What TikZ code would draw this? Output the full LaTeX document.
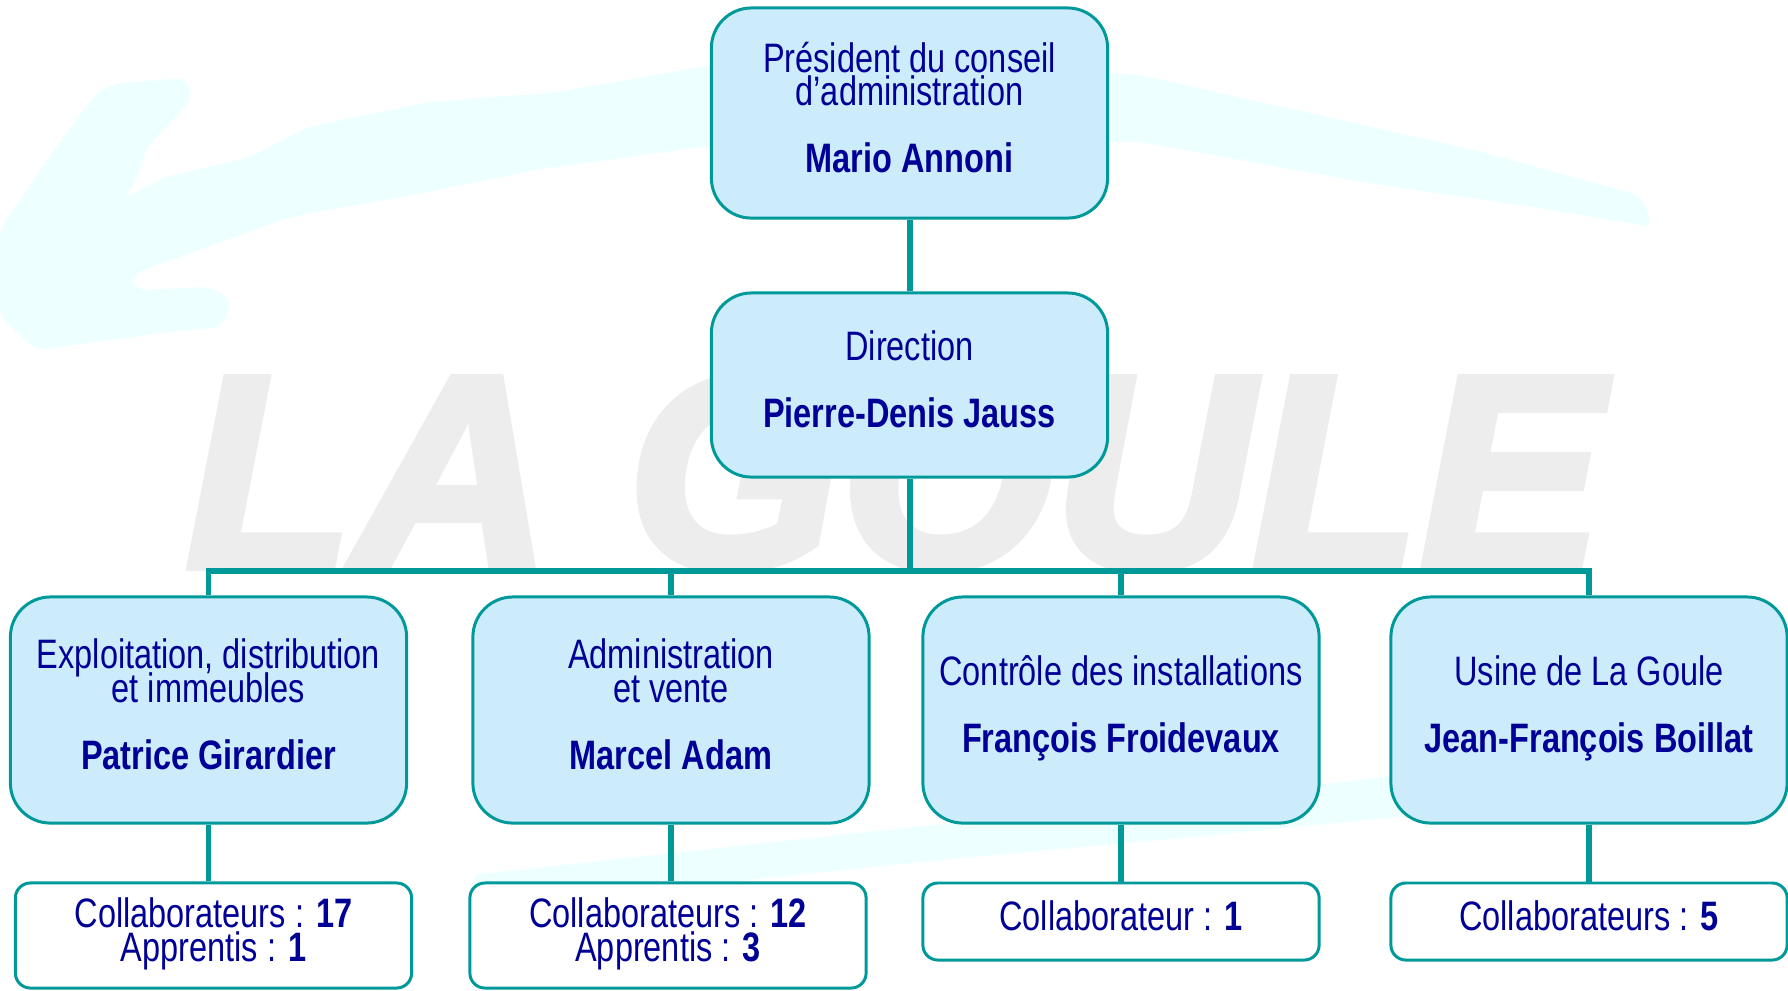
\documentclass[tikz,border=0pt]{standalone}
\usepackage{fontspec}
\setmainfont{Liberation Sans}[FakeStretch=0.79]
\newfontfamily\logofont{Liberation Sans}[FakeBold=3]
\newcommand{\orgfont}{\fontsize{11.7}{9.5}\selectfont\lineskiplimit=-20pt\relax}

\definecolor{boxfill}{RGB}{204,236,252}
\definecolor{boxline}{RGB}{0,153,153}
\definecolor{boxtext}{RGB}{0,0,150}
\definecolor{swoosh}{RGB}{238,255,255}
\definecolor{logogray}{RGB}{237,237,237}

\tikzset{
	chief/.style={draw=boxline, fill=boxfill, line width=0.85pt, rounded corners=0.4cm,
		minimum width=3.96cm, inner sep=0pt, align=center, text=boxtext,
		font=\orgfont, text depth=0.12cm},
	staff/.style={chief, fill=white, rounded corners=0.15cm},
	link/.style={draw=boxline, line width=1.7pt},
}

\begin{document}
\begin{tikzpicture}[x=0.01cm, y=-0.01cm]
	
		\useasboundingbox (0,0) rectangle (1788,990);
		
		% background swoosh
		\fill[swoosh, rounded corners=0.1cm]
		(0,227) -- (25,193) -- (54,150) -- (96,93) -- (116,83) -- (187,78)
		-- (192,100) -- (147,147) -- (134,187) -- (120,200) -- (165,177)
		-- (250,157) -- (308,127) -- (429,102) -- (558,92) -- (700,67)
		-- (900,58) -- (1140,75) -- (1368,126) -- (1482,152) -- (1642,196)
		-- (1653,227) -- (1539,208) -- (1368,183) -- (1140,142) -- (900,140)
		-- (700,147) -- (536,170) -- (402,197) -- (290,217) -- (205,248)
		-- (134,273) -- (134,290) -- (210,287) -- (232,300) -- (223,327)
		-- (161,333) -- (89,343) -- (36,350) -- (0,317) -- cycle;
		\fill[swoosh, rounded corners=0.1cm]
		(470,875) -- (700,850) -- (930,825) -- (1150,805) -- (1400,775)
		-- (1720,735) -- (1730,780) -- (1420,815) -- (1160,840) -- (940,860)
		-- (700,885) -- (480,900) -- cycle;
		
		% watermark
		\node[anchor=base west, inner sep=0pt, text=logogray,
		font=\logofont\bfseries\itshape\fontsize{78}{78}\selectfont] (logo) at (185,567) {LA GOULE};
		
		% boxes
		\node[chief, minimum height=2.1cm] (pres) at (909.5,113)
		{Président du conseil\\d’administration\\[9.5pt]\textbf{Mario Annoni}};
		\node[chief, minimum height=1.84cm] (dir) at (909.5,385)
		{Direction\\[9.5pt]\textbf{Pierre-Denis Jauss}};
		
		\node[chief, minimum height=2.26cm] (expl) at (208.5,710)
		{Exploitation, distribution\\et immeubles\\[9.5pt]\textbf{Patrice Girardier}};
		\node[chief, minimum height=2.26cm] (admin) at (671,710)
		{Administration\\et vente\\[9.5pt]\textbf{Marcel Adam}};
		\node[chief, minimum height=2.26cm] (ctrl) at (1121,710)
		{Contrôle des installations\\[9.5pt]\textbf{François Froidevaux}};
		\node[chief, minimum height=2.26cm] (usine) at (1589,710)
		{Usine de La Goule\\[9.5pt]\textbf{Jean-François Boillat}};
		
		% staff counts
		\node[staff, minimum height=1.05cm] (expl-staff) at (213.5,935.5)
		{Collaborateurs : \textbf{17}\\Apprentis : \textbf{1}};
		\node[staff, minimum height=1.05cm] (admin-staff) at (668,935.5)
		{Collaborateurs : \textbf{12}\\Apprentis : \textbf{3}};
		\node[staff, minimum height=0.77cm] (ctrl-staff) at (1121,921.5)
		{Collaborateur : \textbf{1}};
		\node[staff, minimum height=0.77cm] (usine-staff) at (1589,921.5)
		{Collaborateurs : \textbf{5}};
		
		% links
		\coordinate (bus) at (0,571);
		\draw[link] (pres.south) -- (dir.north);
		\draw[link] (dir.south) -- (dir.south |- bus);
		\draw[link] (expl.north) -- (expl.north |- bus) -- (usine.north |- bus) -- (usine.north);
		\foreach \n in {admin,ctrl}
			\draw[link] (\n.north) -- (\n.north |- bus);
		\foreach \n in {expl,admin,ctrl,usine}
			\draw[link] (\n.south) -- (\n.south |- \n-staff.north);
	
	\end{tikzpicture}
\end{document}
